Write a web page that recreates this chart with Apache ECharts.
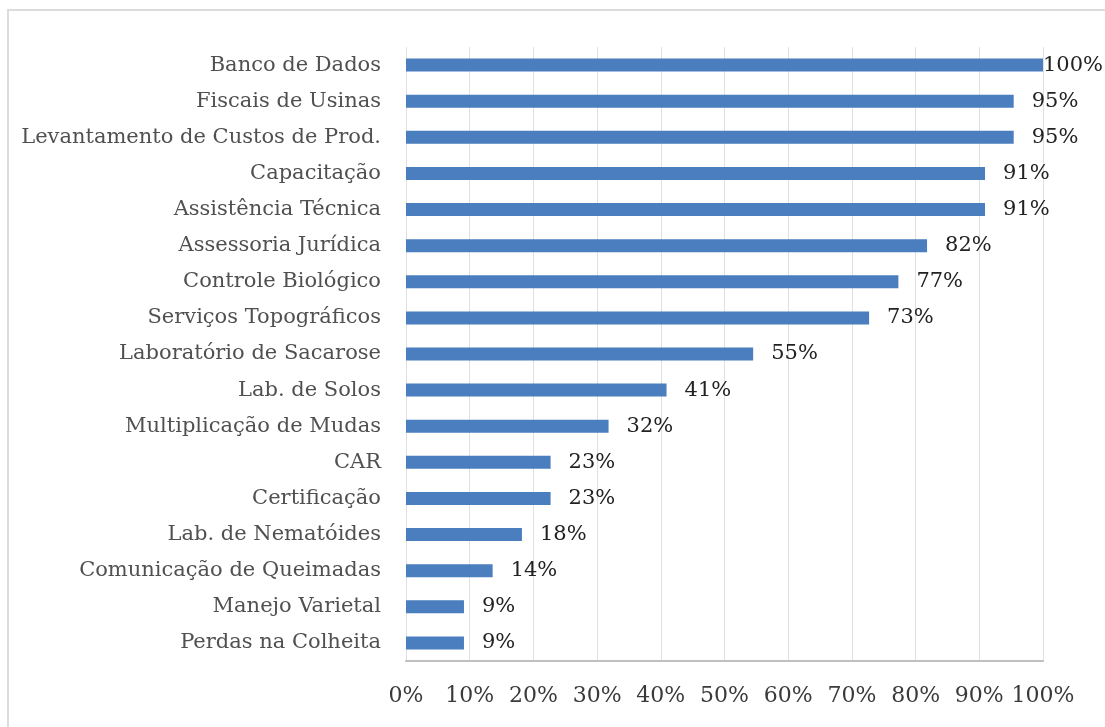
<!DOCTYPE html>
<html>
<head>
<meta charset="utf-8">
<script src="https://cdn.jsdelivr.net/npm/echarts@6/dist/echarts.min.js"></script>
<style>html,body{margin:0;padding:0;background:#fff;}#c{width:1105px;height:727px;}</style>
</head>
<body>
<div id="c"></div>
<script>
const categories = [
  "Banco de Dados",
  "Fiscais de Usinas",
  "Levantamento de Custos de Prod.",
  "Capacitação",
  "Assistência Técnica",
  "Assessoria Jurídica",
  "Controle Biológico",
  "Serviços Topográficos",
  "Laboratório de Sacarose",
  "Lab. de Solos",
  "Multiplicação de Mudas",
  "CAR",
  "Certificação",
  "Lab. de Nematóides",
  "Comunicação de Queimadas",
  "Manejo Varietal",
  "Perdas na Colheita"
];
const values = [100, 95.4, 95.4, 90.9, 90.9, 81.8, 77.3, 72.7, 54.5, 40.9, 31.8, 22.7, 22.7, 18.2, 13.6, 9.1, 9.1];
const xTicks = [0, 10, 20, 30, 40, 50, 60, 70, 80, 90, 100];

const FONT = "DejaVu Serif";
const chart = echarts.init(document.getElementById('c'), null, {renderer: 'canvas'});
const seriesData = values.map((v, i) => i === 0 ? {value: v, label: {distance: 0}} : v);

chart.setOption({
  animation: false,
  backgroundColor: '#ffffff',
  graphic: [{
    type: 'rect',
    shape: {x: 8, y: 10, width: 1120, height: 740},
    style: {fill: 'none', stroke: '#dcdcdc', lineWidth: 2},
    silent: true
  }],
  grid: {left: 406, right: 62, top: 47, bottom: 66, containLabel: false},
  xAxis: {
    type: 'value',
    min: xTicks[0],
    max: xTicks[xTicks.length - 1],
    interval: 10,
    axisLine: {show: true, lineStyle: {color: '#bfbfbf', width: 2}},
    axisTick: {show: false},
    splitLine: {show: true, lineStyle: {color: '#e0e0e0', width: 1}},
    axisLabel: {
      formatter: v => v + '%',
      fontFamily: FONT, fontSize: 22, color: '#3a3a3a', margin: 24
    }
  },
  yAxis: {
    type: 'category',
    data: categories,
    inverse: true,
    axisLine: {show: false},
    axisTick: {show: false},
    splitLine: {show: false},
    axisLabel: {fontFamily: FONT, fontSize: 21, color: '#505050', margin: 25}
  },
  series: [{
    type: 'bar',
    data: seriesData,
    barWidth: 13,
    itemStyle: {color: '#4a7ebf'},
    label: {
      show: true,
      position: 'right',
      distance: 18,
      formatter: p => Math.round(p.value) + '%',
      fontFamily: FONT, fontSize: 21, color: '#222222'
    }
  }]
});
</script>
</body>
</html>
